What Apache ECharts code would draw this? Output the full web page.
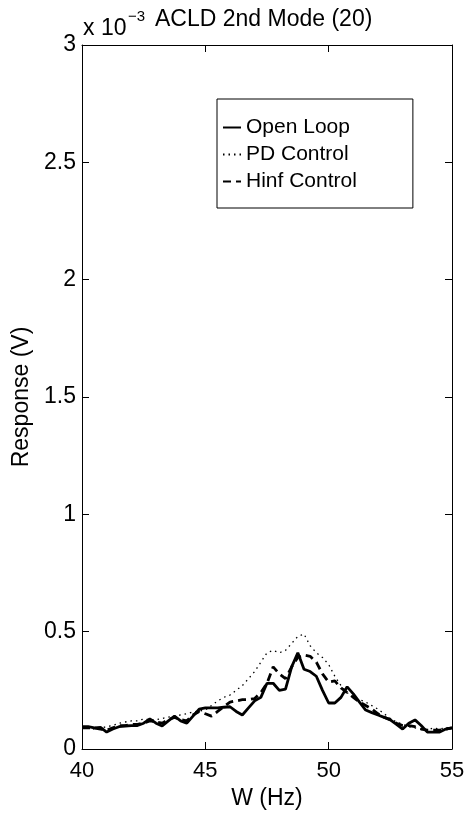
<!DOCTYPE html>
<html><head><meta charset="utf-8">
<script src="https://cdn.jsdelivr.net/npm/echarts@6/dist/echarts.min.js"></script>
<style>html,body{margin:0;padding:0;background:#fff}#c{width:472px;height:818px}</style>
</head><body><div id="c"></div>
<script>
const freq = [40,40.25,40.5,40.75,41,41.25,41.5,41.75,42,42.25,42.5,42.75,43,43.25,43.5,43.75,44,44.25,44.5,44.75,45,45.25,45.5,45.75,46,46.25,46.5,46.75,47,47.25,47.5,47.75,48,48.25,48.5,48.75,49,49.25,49.5,49.75,50,50.25,50.5,50.75,51,51.25,51.5,51.75,52,52.25,52.5,52.75,53,53.25,53.5,53.75,54,54.25,54.5,54.75,55];
// values in units of 1e-3 V
const openLoop = [0.095,0.095,0.09,0.092,0.072,0.085,0.095,0.098,0.10,0.10,0.11,0.128,0.11,0.098,0.12,0.14,0.12,0.11,0.14,0.17,0.175,0.175,0.175,0.178,0.18,0.16,0.145,0.175,0.205,0.22,0.28,0.28,0.25,0.255,0.35,0.41,0.34,0.33,0.31,0.25,0.196,0.196,0.22,0.265,0.235,0.2,0.166,0.155,0.145,0.135,0.124,0.105,0.085,0.11,0.124,0.1,0.072,0.072,0.072,0.085,0.09];
const pdControl = [0.09,0.09,0.085,0.09,0.095,0.1,0.11,0.115,0.12,0.12,0.128,0.125,0.125,0.13,0.136,0.14,0.145,0.15,0.158,0.162,0.166,0.185,0.205,0.22,0.23,0.25,0.27,0.3,0.33,0.37,0.41,0.42,0.41,0.42,0.45,0.48,0.49,0.44,0.41,0.39,0.36,0.31,0.27,0.24,0.22,0.21,0.2,0.185,0.17,0.15,0.13,0.115,0.105,0.095,0.09,0.085,0.08,0.09,0.085,0.09,0.09];
const hinfControl = [0.09,0.09,0.09,0.085,0.08,0.09,0.1,0.1,0.105,0.105,0.11,0.12,0.115,0.11,0.125,0.135,0.125,0.12,0.145,0.16,0.15,0.14,0.16,0.18,0.2,0.205,0.21,0.21,0.215,0.24,0.28,0.35,0.32,0.3,0.35,0.39,0.40,0.395,0.37,0.32,0.285,0.29,0.26,0.24,0.22,0.2,0.185,0.17,0.15,0.135,0.125,0.11,0.1,0.1,0.095,0.085,0.08,0.08,0.08,0.085,0.09];
const xTicks = [40,45,50,55];
const yTicks = [0,0.5,1,1.5,2,2.5,3];
const seriesNames = ['Open Loop','PD Control','Hinf Control'];

const pair = v => freq.map((f,i)=>[f,v[i]]);
const font = 'Liberation Sans, Arial, Helvetica, sans-serif';
const chart = echarts.init(document.getElementById('c'));
const axisCommon = {
  axisLine:{show:true,onZero:false,lineStyle:{color:'#000',width:1}},
  axisTick:{show:true,inside:true,length:7,lineStyle:{color:'#000'}},
  splitLine:{show:false}
};
chart.setOption({
  animation:false,
  backgroundColor:'#fff',
  grid:{left:82,right:20,top:45,bottom:69,containLabel:false},
  xAxis:[
    Object.assign({type:'value',min:xTicks[0],max:xTicks[xTicks.length-1],interval:5,position:'bottom',
      axisLabel:{color:'#000',fontSize:22,fontFamily:font,margin:11},
      name:'W (Hz)',nameLocation:'middle',nameGap:34,
      nameTextStyle:{color:'#000',fontSize:23,fontFamily:font}},axisCommon),
    Object.assign({type:'value',min:xTicks[0],max:xTicks[xTicks.length-1],interval:5,position:'top',axisLabel:{show:false}},axisCommon)
  ],
  yAxis:[
    Object.assign({type:'value',min:yTicks[0],max:yTicks[yTicks.length-1],interval:0.5,position:'left',
      axisLabel:{color:'#000',fontSize:23,fontFamily:font,margin:6,formatter:v=>String(v)},
      name:'Response (V)',nameLocation:'middle',nameGap:48,
      nameTextStyle:{color:'#000',fontSize:23,fontFamily:font}},axisCommon),
    Object.assign({type:'value',min:yTicks[0],max:yTicks[yTicks.length-1],interval:0.5,position:'right',axisLabel:{show:false}},axisCommon)
  ],
  legend:{
    left:217,top:99,orient:'vertical',
    backgroundColor:'#fff',borderColor:'#000',borderWidth:1,
    padding:[18,56,16,5],itemGap:6,itemWidth:18,itemHeight:20,
    itemStyle:{color:'rgba(0,0,0,0)',borderColor:'rgba(0,0,0,0)',borderWidth:0},
    textStyle:{color:'#000',fontSize:21,fontFamily:font},
    data:seriesNames
  },
  series:[
    {name:seriesNames[0],type:'line',data:pair(openLoop),showSymbol:false,symbol:'none',
      lineStyle:{color:'#000',width:2.8,type:'solid'},itemStyle:{color:'#000'}},
    {name:seriesNames[1],type:'line',data:pair(pdControl),showSymbol:false,symbol:'none',
      lineStyle:{color:'#000',width:1.3,type:[1.5,4]},itemStyle:{color:'#000'}},
    {name:seriesNames[2],type:'line',data:pair(hinfControl),showSymbol:false,symbol:'none',
      lineStyle:{color:'#000',width:2.8,type:[8,5]},itemStyle:{color:'#000'}}
  ],
  graphic:[
    {type:'text',left:83,top:17,style:{text:'x 10',fill:'#000',font:'23px '+font}},
    {type:'text',left:128,top:9,style:{text:'\u22123',fill:'#000',font:'15px '+font}},
    {type:'text',left:155,top:8,style:{text:'ACLD 2nd Mode (20)',fill:'#000',font:'23px '+font}}
  ]
});
</script></body></html>
